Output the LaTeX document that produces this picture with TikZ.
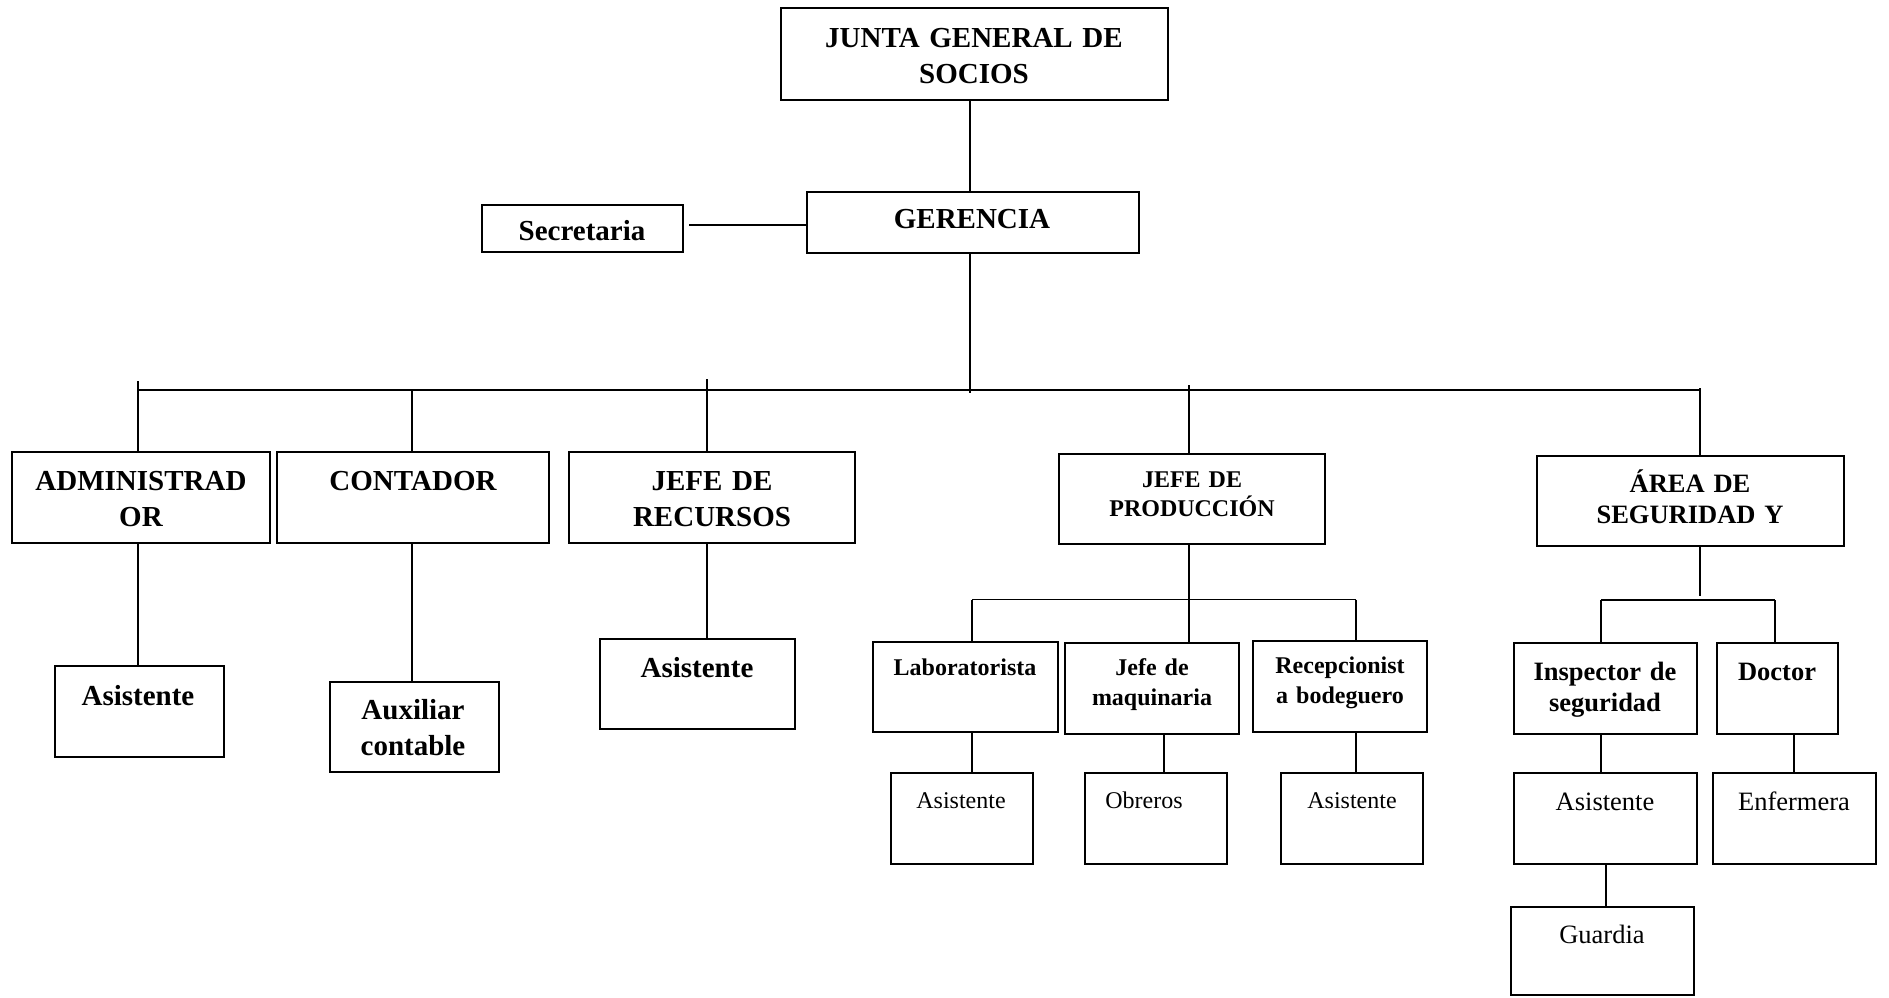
\documentclass[tikz,border=0pt]{standalone}
\usepackage{fontspec}
\setmainfont{Liberation Serif}
% box from its corners: name, left, top, right, bottom (y grows downwards)
\newcommand\orgnode[5]{\node[orgbox, minimum width={#4pt-#2pt}, minimum height={#5pt-#3pt}] (#1) at ({(#2+#4)/2},{(#3+#5)/2}) {};}
\begin{document}
\begin{tikzpicture}[x=1pt, y=-1pt,
  orgbox/.style={draw, line width=1.8pt, inner sep=0pt, outer sep=0pt},
  link/.style={line width=1.5pt},
  bus/.style={line width=2pt},
  txt/.style={anchor=base, inner sep=0pt, text width=380pt, align=center},
  big/.style={txt, font=\fontsize{29}{36}\selectfont\bfseries},
  mid/.style={txt, font=\fontsize{26.5}{31.5}\selectfont\bfseries},
  midr/.style={txt, font=\fontsize{26.5}{31.5}\selectfont},
  small/.style={txt, font=\fontsize{24}{29.5}\selectfont\bfseries},
  smallr/.style={txt, font=\fontsize{24}{29.5}\selectfont},
]
\useasboundingbox (0,0) rectangle (1889,997);

% ---- boxes ----
\orgnode{junta}{781}{8}{1168}{100}
\orgnode{ger}{807}{192}{1139}{253}
\orgnode{sec}{482}{205}{683}{252}
\orgnode{adm}{12}{452}{270}{543}
\orgnode{cont}{277}{452}{549}{543}
\orgnode{jrec}{569}{452}{855}{543}
\orgnode{jprod}{1059}{454}{1325}{544}
\orgnode{area}{1537}{456}{1844}{546}
\orgnode{asadm}{55}{666}{224}{757}
\orgnode{aux}{330}{682}{499}{772}
\orgnode{asrec}{600}{639}{795}{729}
\orgnode{lab}{873}{642}{1058}{732}
\orgnode{maq}{1065}{643}{1239}{734}
\orgnode{recep}{1253}{641}{1427}{732}
\orgnode{aslab}{891}{773}{1033}{864}
\orgnode{obr}{1085}{773}{1227}{864}
\orgnode{asrcp}{1281}{773}{1423}{864}
\orgnode{insp}{1514}{643}{1697}{734}
\orgnode{doc}{1717}{643}{1838}{734}
\orgnode{asins}{1514}{773}{1697}{864}
\orgnode{enf}{1713}{773}{1876}{864}
\orgnode{guard}{1511}{907}{1694}{995}

% ---- texts ----
\node[big] (junta-t) at (974,47) {JUNTA GENERAL DE\\SOCIOS};
\node[big] (ger-t) at (972,228) {GERENCIA};
\node[big] (sec-t) at (582,240) {Secretaria};
\node[big] (adm-t) at (141,490) {ADMINISTRAD\\OR};
\node[big] (cont-t) at (413,490) {CONTADOR};
\node[big] (jrec-t) at (712,490) {JEFE DE\\RECURSOS};
\node[small] (jprod-t) at (1192,487) {JEFE DE\\PRODUCCIÓN};
\node[mid] (area-t) at (1690,492) {ÁREA DE\\SEGURIDAD Y};
\node[big] (asadm-t) at (138,705) {Asistente};
\node[big] (aux-t) at (413,719) {Auxiliar\\contable};
\node[big] (asrec-t) at (697,677) {Asistente};
\node[small] (lab-t) at (965,675.5) {Laboratorista};
\node[small] (maq-t) at (1152,675.5) {Jefe de\\maquinaria};
\node[small] (recep-t) at (1340,673.5) {Recepcionist\\a bodeguero};
\node[smallr] (aslab-t) at (961,808) {Asistente};
\node[smallr] (obr-t) at (1144,808) {Obreros};
\node[smallr] (asrcp-t) at (1352,808) {Asistente};
\node[mid] (insp-t) at (1605,680) {Inspector de\\seguridad};
\node[mid] (doc-t) at (1777,680) {Doctor};
\node[midr] (asins-t) at (1605,810) {Asistente};
\node[midr] (enf-t) at (1794,810) {Enfermera};
\node[midr] (guard-t) at (1602,943.5) {Guardia};

% ---- top of the chart ----
\coordinate (trunk) at (970,393);
\draw[link] (junta.south -| trunk) -- (ger.north -| trunk);
\draw[link] (ger.south -| trunk) -- (trunk);
\coordinate (secline) at (689,225);
\draw[bus] (secline) -- (secline -| ger.west);

% ---- main bus and drops ----
\coordinate (busL) at (138,390);
\coordinate (busR) at (1700,390);
\draw[bus] (busL) -- (busR);
\coordinate (admtop) at (138,381);
\coordinate (conttop) at (412,390);
\coordinate (jrectop) at (707,379);
\coordinate (jprodtop) at (1189,385);
\coordinate (areatop) at (1700,388);
\draw[link] (admtop) -- (admtop |- adm.north);
\draw[link] (conttop) -- (conttop |- cont.north);
\draw[link] (jrectop) -- (jrectop |- jrec.north);
\draw[link] (jprodtop) -- (jprodtop |- jprod.north);
\draw[link] (areatop) -- (areatop |- area.north);

% ---- first-level subordinates ----
\draw[link] (admtop |- adm.south) -- (admtop |- asadm.north);
\draw[link] (conttop |- cont.south) -- (conttop |- aux.north);
\draw[link] (jrectop |- jrec.south) -- (jrectop |- asrec.north);

% ---- production branch ----
\coordinate (pbL) at (972,599.5);
\coordinate (pbR) at (1356,599.5);
\coordinate (mqx) at (1164,0);
\draw[link] (jprodtop |- jprod.south) -- (jprodtop |- maq.north);
\draw[link] (pbL) -- (pbR);
\draw[link] (pbL) -- (pbL |- lab.north);
\draw[link] (pbR) -- (pbR |- recep.north);
\draw[link] (pbL |- lab.south) -- (pbL |- aslab.north);
\draw[link] (maq.south -| mqx) -- (obr.north -| mqx);
\draw[link] (pbR |- recep.south) -- (pbR |- asrcp.north);

% ---- safety branch ----
\coordinate (areadown) at (1700,596);
\coordinate (abL) at (1601,600);
\coordinate (abR) at (1775,600);
\coordinate (enfx) at (1794,0);
\coordinate (guardx) at (1606,0);
\draw[link] (areatop |- area.south) -- (areadown);
\draw[link] (abL) -- (abR);
\draw[link] (abL) -- (abL |- insp.north);
\draw[link] (abR) -- (abR |- doc.north);
\draw[link] (abL |- insp.south) -- (abL |- asins.north);
\draw[link] (doc.south -| enfx) -- (enf.north -| enfx);
\draw[link] (asins.south -| guardx) -- (guard.north -| guardx);
\end{tikzpicture}
\end{document}
